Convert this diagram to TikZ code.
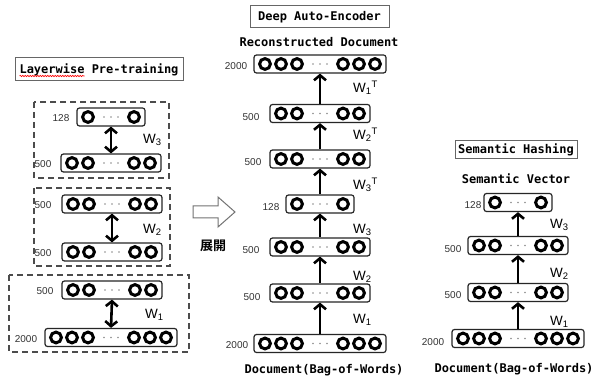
\documentclass[tikz,border=0pt]{standalone}
\usepackage{fontspec}
\setmainfont{Liberation Sans}
\newfontfamily\monof{DejaVu Sans Mono Bold}
\newfontfamily\jpf{Noto Sans CJK JP Bold}
\usetikzlibrary{arrows.meta,decorations.pathmorphing,calc}
\tikzset{
 layerbox/.style={draw=black!85, line width=1.2pt, rounded corners=2.5pt, minimum height=18pt, inner sep=0pt},
 neuron/.style={draw=black, line width=3pt},
 numlab/.style={font=\fontsize{10}{11}\selectfont, text=black!80, inner sep=0pt},
 wlab/.style={font=\fontsize{13.5}{14}\selectfont, anchor=west, inner sep=0pt},
 titlebox/.style={draw=black!60, line width=1pt, font=\monof\fontsize{12}{13}\selectfont, inner sep=0pt},
 mono/.style={font=\monof\fontsize{12}{13}\selectfont, inner sep=0pt},
 uparrow/.style={line width=2.6pt, -{Straight Barb[length=5pt,width=12pt]}},
 dblarrow/.style={line width=2.6pt, {Straight Barb[length=5pt,width=12pt]}-{Straight Barb[length=5pt,width=12pt]}},
 dbox/.style={draw=black!70, line width=1.6pt, dash pattern=on 6pt off 4pt},
}
\newcommand\mklayer[7]{%
  \node[layerbox, minimum width={(36+32*#4)*1pt}] (#1) at (#2,#3) {};
  \foreach \k in {1,...,#4}{%
    \draw[neuron] ({#2-23-16*(\k-1)},#3) circle[radius=5.4pt];
    \draw[neuron] ({#2+23+16*(\k-1)},#3) circle[radius=5.4pt];
  }%
  \foreach \d in {-7,0,7}{\fill[black!45] ({#2+\d},#3) circle[radius=0.8pt];}%
  \node[numlab] (#1-lab) at (#6,#7) {#5};%
}
\begin{document}
\begin{tikzpicture}[x=1pt,y=-1pt]
\useasboundingbox[fill=white] (0,0) rectangle (594,379);

% titles
\node[titlebox, minimum width=168pt, minimum height=23pt] (tleft) at (99,69.5) {Layerwise Pre-training};
\draw[red, line width=0.6pt, decorate, decoration={snake, amplitude=0.7pt, segment length=2.5pt}] (19.5,76) -- (84.5,76);
\node[titlebox, minimum width=139pt, minimum height=22pt] (tmid) at (319.5,17) {Deep Auto-Encoder};
\node[titlebox, minimum width=122pt, minimum height=18pt] (tright) at (516,150) {Semantic Hashing};

\node[mono] (recon) at (319,42) {Reconstructed Document};
\node[mono] (docmid) at (324,370) {Document(Bag-of-Words)};
\node[mono] (docright) at (514,369) {Document(Bag-of-Words)};
\node[mono] (semvec) at (516,179) {Semantic Vector};

% left column
\draw[dbox] (34,102) rectangle (169,178);
\draw[dbox] (34,188) rectangle (170,266);
\draw[dbox] (9,275) rectangle (189,352);
\mklayer{Lthree}{111}{117}{1}{128}{61}{118}
\mklayer{Lthreeb}{111}{163}{2}{500}{43}{164}
\mklayer{Ltwo}{112}{204}{2}{500}{43}{205}
\mklayer{Ltwob}{112}{252}{2}{500}{43}{253}
\mklayer{Lone}{112}{290}{2}{500}{45}{291}
\mklayer{Loneb}{111}{337.5}{3}{2000}{26}{339}
\draw[dblarrow] (Lthreeb.north) -- (Lthree.south);
\draw[dblarrow] (Ltwob.north) -- (Ltwo.south);
\draw[dblarrow] (Loneb.north) -- (Lone.south);
\node[wlab] (wl3) at (143,140) {W\textsubscript{3}};
\node[wlab] (wl2) at (143,230) {W\textsubscript{2}};
\node[wlab] (wl1) at (145,315) {W\textsubscript{1}};

% unfold arrow
\draw[black!55, line width=1pt, fill=white] (193,206) -- (218,206) -- (218,197) -- (235,212) -- (218,227) -- (218,218) -- (193,218) -- cycle;
\node[font=\jpf\fontsize{13}{14}\selectfont, inner sep=0pt] (tenkai) at (213,246) {展開};

% middle column
\mklayer{Mtop}{320}{64}{3}{2000}{236}{66}
\mklayer{Ma}{320}{113.5}{2}{500}{251}{117}
\mklayer{Mb}{320}{159}{2}{500}{253}{162}
\mklayer{Mc}{320}{204}{1}{128}{271}{207}
\mklayer{Md}{320}{247}{2}{500}{251}{250}
\mklayer{Me}{320}{293}{2}{500}{252}{297}
\mklayer{Mbot}{320}{343.5}{3}{2000}{237}{345}
\draw[uparrow] (Ma.north) -- (Mtop.south);
\draw[uparrow] (Mb.north) -- (Ma.south);
\draw[uparrow] (Mc.north) -- (Mb.south);
\draw[uparrow] (Md.north) -- (Mc.south);
\draw[uparrow] (Me.north) -- (Md.south);
\draw[uparrow] (Mbot.north) -- (Me.south);
\node[wlab] (wm1t) at (353,88) {W\textsubscript{1}\textsuperscript{T}};
\node[wlab] (wm2t) at (353,135) {W\textsubscript{2}\textsuperscript{T}};
\node[wlab] (wm3t) at (353,185) {W\textsubscript{3}\textsuperscript{T}};
\node[wlab] (wm3) at (353,230) {W\textsubscript{3}};
\node[wlab] (wm2) at (353,277) {W\textsubscript{2}};
\node[wlab] (wm1) at (353,320) {W\textsubscript{1}};

% right column
\mklayer{Ra}{518}{202.5}{1}{128}{473}{205}
\mklayer{Rb}{518}{245.5}{2}{500}{453}{249}
\mklayer{Rc}{518}{292.5}{2}{500}{453}{295}
\mklayer{Rd}{518}{338.5}{3}{2000}{433}{342}
\draw[uparrow] (Rb.north) -- (Ra.south);
\draw[uparrow] (Rc.north) -- (Rb.south);
\draw[uparrow] (Rd.north) -- (Rc.south);
\node[wlab] (wr3) at (550,225) {W\textsubscript{3}};
\node[wlab] (wr2) at (550,274) {W\textsubscript{2}};
\node[wlab] (wr1) at (550,322) {W\textsubscript{1}};
\end{tikzpicture}
\end{document}
